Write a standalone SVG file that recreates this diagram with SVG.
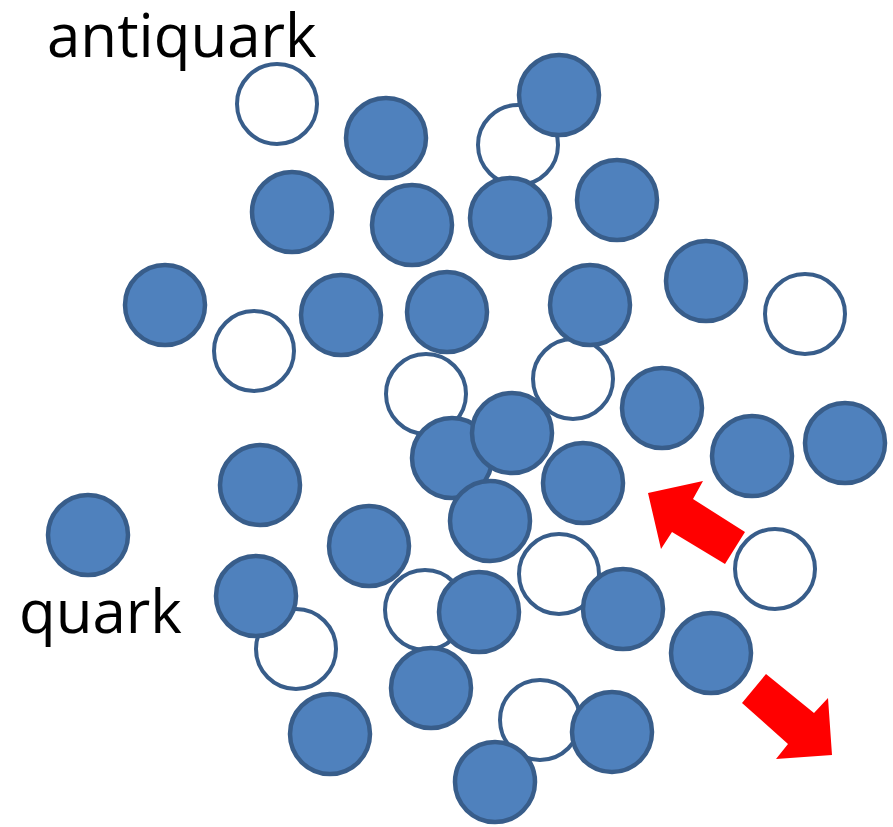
<svg xmlns="http://www.w3.org/2000/svg" width="893" height="827" viewBox="0 0 893 827">
  <style>
    .q { fill: #4f81bd; stroke: #385d8a; stroke-width: 4.5; }
    .aq { fill: #ffffff; stroke: #385d8a; stroke-width: 4; }
    .lbl { font-family: "Open Sans", "Noto Sans", sans-serif; font-size: 60px; fill: #000000; }
    .arrow { fill: #ff0000; stroke: none; }
  </style>
  <rect width="893" height="827" fill="#ffffff"/>

  <!-- labels -->
  <text class="lbl" x="47" y="57">antiquark</text>
  <text class="lbl" x="19" y="633">quark</text>

  <!-- antiquarks (hollow), drawn first so quarks sit on top -->
  <g id="aq1"><circle class="aq" cx="277" cy="104" r="40"/></g>
  <g id="aq2"><circle class="aq" cx="518" cy="145" r="40"/></g>
  <g id="aq3"><circle class="aq" cx="254" cy="351" r="40"/></g>
  <g id="aq4"><circle class="aq" cx="426" cy="394" r="40"/></g>
  <g id="aq5"><circle class="aq" cx="573" cy="379" r="40"/></g>
  <g id="aq6"><circle class="aq" cx="805" cy="314" r="40"/></g>
  <g id="aq7"><circle class="aq" cx="775" cy="569" r="40"/></g>
  <g id="aq8"><circle class="aq" cx="559" cy="574" r="40"/></g>
  <g id="aq9"><circle class="aq" cx="296" cy="649" r="40"/></g>
  <g id="aq10"><circle class="aq" cx="425" cy="610" r="40"/></g>
  <g id="aq11"><circle class="aq" cx="540" cy="720" r="40"/></g>

  <!-- quarks (filled) -->
  <g id="q1"><circle class="q" cx="559" cy="95" r="40"/></g>
  <g id="q2"><circle class="q" cx="386" cy="138" r="40"/></g>
  <g id="q3"><circle class="q" cx="292" cy="212" r="40"/></g>
  <g id="q4"><circle class="q" cx="412" cy="225" r="40"/></g>
  <g id="q5"><circle class="q" cx="510" cy="218" r="40"/></g>
  <g id="q6"><circle class="q" cx="617" cy="200" r="40"/></g>
  <g id="q7"><circle class="q" cx="165" cy="305" r="40"/></g>
  <g id="q8"><circle class="q" cx="341" cy="315" r="40"/></g>
  <g id="q9"><circle class="q" cx="447" cy="312" r="40"/></g>
  <g id="q10"><circle class="q" cx="590" cy="305" r="40"/></g>
  <g id="q11"><circle class="q" cx="706" cy="281" r="40"/></g>
  <g id="q12"><circle class="q" cx="662" cy="408" r="40"/></g>
  <g id="q13"><circle class="q" cx="452" cy="458" r="40"/></g>
  <g id="q14"><circle class="q" cx="512" cy="433" r="40"/></g>
  <g id="q15"><circle class="q" cx="752" cy="456" r="40"/></g>
  <g id="q16"><circle class="q" cx="845" cy="443" r="40"/></g>
  <g id="q17"><circle class="q" cx="260" cy="485" r="40"/></g>
  <g id="q18"><circle class="q" cx="583" cy="483" r="40"/></g>
  <g id="q19"><circle class="q" cx="490" cy="521" r="40"/></g>
  <g id="q20"><circle class="q" cx="88" cy="535" r="40"/></g>
  <g id="q21"><circle class="q" cx="369" cy="546" r="40"/></g>
  <g id="q22"><circle class="q" cx="256" cy="596" r="40"/></g>
  <g id="q23"><circle class="q" cx="479" cy="612" r="40"/></g>
  <g id="q24"><circle class="q" cx="623" cy="609" r="40"/></g>
  <g id="q25"><circle class="q" cx="711" cy="653" r="40"/></g>
  <g id="q26"><circle class="q" cx="431" cy="688" r="40"/></g>
  <g id="q27"><circle class="q" cx="330" cy="734" r="40"/></g>
  <g id="q28"><circle class="q" cx="612" cy="732" r="40"/></g>
  <g id="q29"><circle class="q" cx="495" cy="782" r="40"/></g>

  <!-- block arrows -->
  <g id="arrows">
    <polygon class="arrow" points="648,493 703,481 693,499 745,532 725,564 672,532 661,549"/>
    <polygon class="arrow" points="766,674 814,713 828,698 832,755 776,759 788,744 742,703"/>
  </g>
</svg>
